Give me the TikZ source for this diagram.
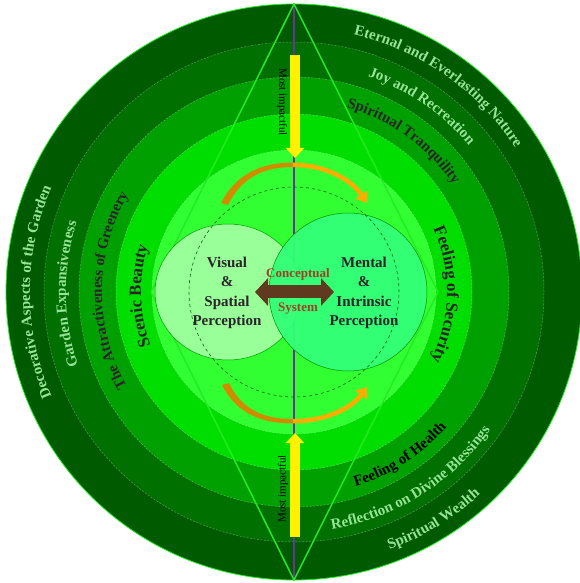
\documentclass[tikz,border=0pt]{standalone}
\usepackage{fontspec}
\setmainfont{Liberation Serif}
\usetikzlibrary{positioning,arrows.meta,decorations.text}

\definecolor{ringA}{RGB}{0,90,0}
\definecolor{ringB}{RGB}{0,112,0}
\definecolor{ringC}{RGB}{0,160,0}
\definecolor{ringD}{RGB}{0,222,0}
\definecolor{core}{RGB}{50,255,50}
\definecolor{paleleaf}{RGB}{153,255,153}
\definecolor{mint}{RGB}{51,255,119}
\definecolor{leaftext}{RGB}{150,228,150}
\definecolor{inktext}{RGB}{45,35,45}
\definecolor{axis}{RGB}{112,48,160}
\definecolor{bark}{RGB}{95,58,30}
\definecolor{rust}{RGB}{165,62,38}
\definecolor{amber}{RGB}{208,140,0}
\definecolor{gold}{RGB}{255,172,0}
\definecolor{rim}{RGB}{35,235,35}

\newcommand{\ringfont}{\bfseries\fontsize{15}{18}\selectfont}
\newcommand{\bigringfont}{\bfseries\fontsize{17}{20}\selectfont}
\newcommand{\cwlabel}[5][\ringfont]{%
  \path[decorate,decoration={text along path,text align=center,text color=#4,text={|#1|#5}}]
    (#2+70:#3) arc[start angle=#2+70,end angle=#2-70,radius=#3pt];}
\newcommand{\ccwlabel}[5][\ringfont]{%
  \path[decorate,decoration={text along path,text align=center,text color=#4,text={|#1|#5}}]
    (#2-70:#3) arc[start angle=#2-70,end angle=#2+70,radius=#3pt];}

\begin{document}
\begin{tikzpicture}[x=1pt,y=1pt,
    sep/.style={draw=white,draw opacity=0.35,dash pattern=on 2pt off 1.5pt,line width=0.5pt},
    impact/.style={draw=yellow,line width=10pt,-{Triangle[width=18pt,length=10pt]}},
    swing/.style={gold,line width=4.5pt,-{Triangle[width=14pt,length=10pt]}},
    blobtext/.style={align=center,text=inktext,font=\bfseries\fontsize{15}{19.5}\selectfont},
    linktext/.style={text=rust,font=\bfseries\fontsize{13}{15}\selectfont},
    impacttext/.style={font=\fontsize{11}{13}\selectfont}]
    \useasboundingbox (-294,-291) rectangle (285,292);
    \fill[ringA] (0,0) circle[radius=288pt];
    \draw[rim,line width=0.8pt] (0,0) circle[radius=288pt];
    \fill[ringB] (0,0) circle[radius=250pt];
    \fill[ringC] (0,0) circle[radius=215pt];
    \fill[ringD] (0,0) circle[radius=178pt];
    \fill[core] (0,0) circle[radius=142pt];
    \foreach \r in {250,215,178,142}
        \draw[sep] (0,0) circle[radius=\r pt];

    \coordinate (top) at (0,288);
    \coordinate (bottom) at (0,-288);
    \coordinate (west) at (-143,0);
    \coordinate (east) at (144,0);
    \draw[axis,line width=1.6pt] (top) -- (bottom);
    \draw[rim,line width=1.5pt] (top) -- (west) -- (bottom) -- (east) -- cycle;

    \filldraw[fill=paleleaf,draw=green!60!black,line width=0.5pt] (-66,0) ellipse[x radius=73pt,y radius=68pt];
    \filldraw[fill=mint,fill opacity=0.95,draw=green!55!black,line width=0.5pt] (54,0) circle[radius=79pt];
    \draw[green!40!black,dashed,line width=0.6pt] (0,0) circle[radius=105pt];

    \coordinate (upmid) at (-1,127.25);
    \coordinate (uptip) at (73,89);
    \coordinate (lowmid) at (-1,-129.25);
    \coordinate (lowtip) at (73,-95);
    \fill[amber] (-73,89) .. controls (-57,120) and (-30,129.5) .. (-1,129.5) -- (-1,125) .. controls (-30,125) and (-52,115) .. (-66,87) -- cycle;
    \draw[swing] (upmid) .. controls (30,127.25) and (57,113) .. (uptip);
    \fill[amber] (-72,-93) .. controls (-57,-123) and (-30,-131.5) .. (-1,-131.5) -- (-1,-127) .. controls (-30,-127) and (-52,-118) .. (-65,-91) -- cycle;
    \draw[swing] (lowmid) .. controls (30,-129.25) and (57,-117) .. (lowtip);

    \coordinate (t1) at (1,237);
    \coordinate (t2) at (1,134);
    \coordinate (b1) at (1,-245);
    \coordinate (b2) at (1,-141);
    \draw[impact] (t1) -- (t2);
    \draw[impact] (b1) -- (b2);
    \node (topnote) [impacttext,rotate=-90] at (-12,190) {Most impactful};
    \node (lownote) [impacttext,rotate=90] at (-11,-197) {Most impactful};

    \coordinate (linkL) at (-39,0);
    \coordinate (linkR) at (40,0);
    \draw[bark,line width=13pt,{Triangle[width=27pt,length=13pt]}-{Triangle[width=27pt,length=13pt]}] (linkL) -- (linkR);
    \node (V) [blobtext] at (-67,-1) {Visual\\\&\\Spatial\\Perception};
    \node (M) [blobtext] at (70,-1) {Mental\\\&\\Intrinsic\\Perception};
    \node (C) [linktext] at (4,18) {Conceptual};
    \node (S) [linktext,below=15.6pt of C] {System};

    \cwlabel{55}{264}{leaftext}{Eternal and Everlasting Nature}
    \cwlabel{55.5}{228}{leaftext}{Joy and Recreation}
    \cwlabel{54}{192}{inktext}{Spiritual Tranquility}
    \cwlabel[\bigringfont]{-1}{153}{inktext}{Feeling of Security}
    \cwlabel{180}{264}{leaftext}{Decorative Aspects of the Garden}
    \cwlabel{180.5}{228}{leaftext}{Garden Expansiveness}
    \cwlabel{179.5}{192}{inktext}{The Attractiveness of Greenery}
    \cwlabel[\bigringfont]{181.5}{153}{inktext}{Scenic Beauty}
    \ccwlabel{-57}{204}{black}{Feeling of Health}
    \ccwlabel{-58}{240}{leaftext}{Reflection on Divine Blessings}
    \ccwlabel{-58.5}{275}{leaftext}{Spiritual Wealth}
\end{tikzpicture}
\end{document}
